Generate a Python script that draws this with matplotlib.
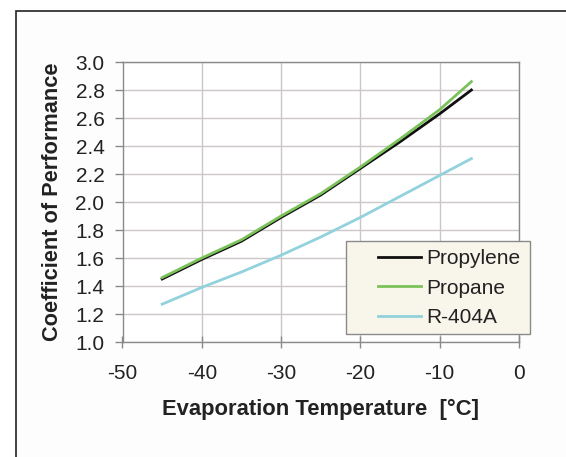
import matplotlib.pyplot as plt
from matplotlib.patches import Rectangle

# Evaporation temperature [C] and COP per refrigerant
temps = [-45, -40, -35, -30, -25, -20, -15, -10, -6]
propylene = [1.45, 1.59, 1.72, 1.89, 2.05, 2.24, 2.43, 2.63, 2.80]
propane = [1.46, 1.60, 1.73, 1.90, 2.06, 2.25, 2.45, 2.66, 2.86]
r404a = [1.27, 1.39, 1.50, 1.62, 1.75, 1.89, 2.04, 2.19, 2.31]
xticks = [-50, -40, -30, -20, -10, 0]
yticks = [1.0, 1.2, 1.4, 1.6, 1.8, 2.0, 2.2, 2.4, 2.6, 2.8, 3.0]

series = [('Propylene', propylene, '#101010'),
          ('Propane', propane, '#7cc25a'),
          ('R-404A', r404a, '#92d2dc')]

plt.rcParams['font.family'] = ['Liberation Sans', 'DejaVu Sans']
W, H = 566, 457

fig = plt.figure(figsize=(W / 100, H / 100), dpi=100)
fig.patch.set_facecolor('white')

# outer frame running off the right and bottom edges
frame = Rectangle((16 / W, -0.05), 1.0, 1 - 11 / H + 0.05,
                  transform=fig.transFigure, facecolor='#fdfdfd',
                  edgecolor='#222222', linewidth=1.2, zorder=-10)
fig.add_artist(frame)

ax = fig.add_axes([122.5 / W, 1 - 342 / H, (519 - 122.5) / W, (342 - 62) / H])
ax.set_zorder(1)
ax.set_facecolor('white')

for name, vals, col in series:
    ax.plot(temps, vals, color=col, linewidth=2.0, label=name)

ax.set_xlim(-50, 0)
ax.set_ylim(1.0, 3.0)
ax.set_xticks(xticks)
ax.set_xticklabels([str(v) for v in xticks])
ax.set_yticks(yticks)
ax.set_yticklabels(['%.1f' % v for v in yticks])
ax.grid(True, color='#cdc6c6', linewidth=1.0)
ax.set_axisbelow(True)
for s in ax.spines.values():
    s.set_color('#8a8a8a')
    s.set_linewidth(1.0)
ax.tick_params(axis='both', colors='#8a8a8a', labelcolor='#222222',
               labelsize=15, width=1.0)
ax.tick_params(axis='x', direction='inout', length=9, pad=11)
ax.tick_params(axis='y', direction='out', length=6, pad=7)

ax.set_xlabel('Evaporation Temperature  [°C]', fontsize=15.8, fontweight='bold',
              color='#222222', labelpad=12)
ax.set_ylabel('Coefficient of Performance', fontsize=15.7, fontweight='bold',
              color='#222222', labelpad=9)

# legend box drawn separately so the entries can sit off-centre like the original
box = Rectangle((346 / W, 1 - 334 / H), 184 / W, 93 / H, transform=fig.transFigure,
                facecolor='#f8f5ea', edgecolor='#8a8a8a', linewidth=1.0,
                zorder=4.5, clip_on=False)
ax.add_artist(box)
leg = ax.legend(loc='center left', bbox_to_anchor=(378 / W, 1 - 288 / H),
                bbox_transform=fig.transFigure, fontsize=15, frameon=False,
                borderpad=0, borderaxespad=0, handlelength=2.07,
                handletextpad=0.25, labelspacing=0.5)
for t in leg.get_texts():
    t.set_color('#222222')

fig.savefig('out.png', dpi=100)
